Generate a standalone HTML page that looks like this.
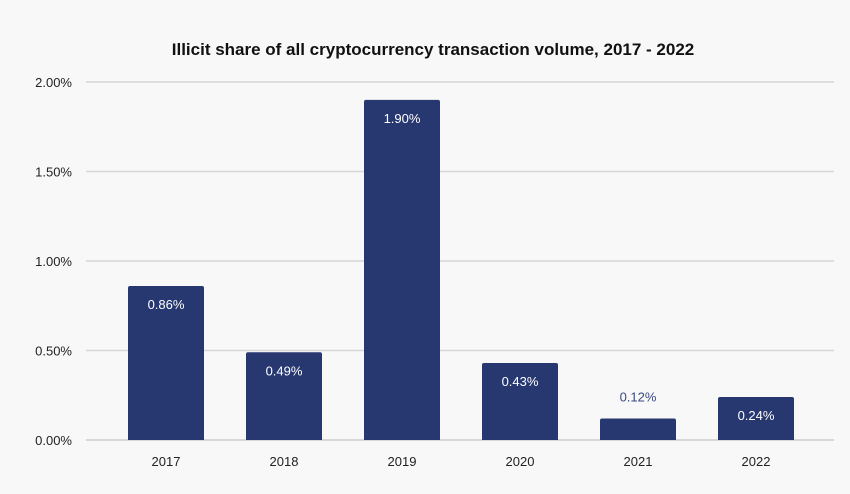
<!DOCTYPE html>
<html><head><meta charset="utf-8"><style>
body{margin:0;background:#f8f8f8;}
svg{display:block;font-family:"Liberation Sans",sans-serif;}
</style></head><body>
<svg id="chart" width="850" height="494">
<rect width="850" height="494" fill="#f8f8f8"/>
<text x="433" y="55" text-anchor="middle" font-size="17" font-weight="bold" fill="#111">Illicit share of all cryptocurrency transaction volume, 2017 - 2022</text>
<g id="grid"></g><g id="bars"></g>
</svg>
<script>
const categories=["2017","2018","2019","2020","2021","2022"];
const values=[0.86,0.49,1.90,0.43,0.12,0.24];
const valueLabels=["0.86%","0.49%","1.90%","0.43%","0.12%","0.24%"];
const yTicks=[0,0.5,1,1.5,2];
const yTickLabels=["0.00%","0.50%","1.00%","1.50%","2.00%"];
const NS="http://www.w3.org/2000/svg";
const y0=440,yTop=82,ymax=2;
const y=v=>y0-(v/ymax)*(y0-yTop);
const bandL=107,bandW=118,barW=76;
const x=i=>bandL+bandW*i+bandW/2;
function mk(t,a,p){const e=document.createElementNS(NS,t);for(const k in a)e.setAttribute(k,a[k]);p.appendChild(e);return e;}
const grid=document.getElementById('grid'),bars=document.getElementById('bars');
yTicks.forEach((v,i)=>{
 const l=mk('line',{x1:86,x2:834,y1:y(v),y2:y(v),stroke:i==0?'#ccc':'#d6d6d6','stroke-width':1.5},grid);
 
 
 const t=mk('text',{x:72,y:y(v)+5,'text-anchor':'end','font-size':13,fill:'#222'},grid);
 t.textContent=yTickLabels[i];
 
 
});
values.forEach((v,i)=>{
 const top=y(v),h=y0-top;
 const r=mk('path',{d:`M${x(i)-barW/2},${y0}V${top+2}q0,-2 2,-2H${x(i)+barW/2-2}q2,0 2,2V${y0}Z`,fill:'#273871'},bars);
 
 
 const inside=h>30;
 const t=mk('text',{x:x(i),y:inside?top+23:top-17,'text-anchor':'middle','font-size':13,fill:inside?'#fff':'#3a4a80'},bars);
 t.textContent=valueLabels[i];
 
 
 const c=mk('text',{x:x(i),y:466,'text-anchor':'middle','font-size':13,fill:'#222'},bars);
 c.textContent=categories[i];
 
 
});
</script>
</body></html>
